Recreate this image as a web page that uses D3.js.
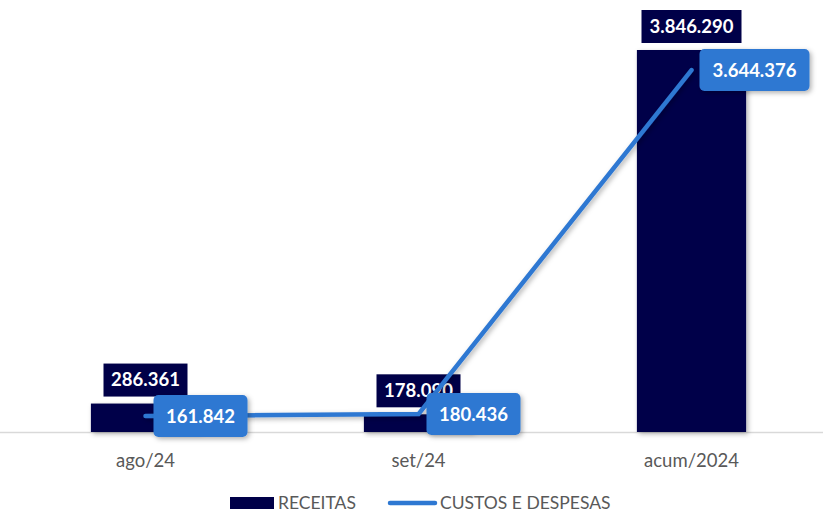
<!DOCTYPE html>
<html>
<head>
<meta charset="utf-8">
<script src="https://cdn.jsdelivr.net/npm/d3@7"></script>
<style>
  body { margin: 0; background: #fff; }
  svg { font-family: Lato, "Open Sans", sans-serif; }
</style>
</head>
<body>
<div id="chart"></div>
<script>
var categories = ['ago/24', 'set/24', 'acum/2024'];
var receitas = [286361, 178090, 3846290];
var custos = [161842, 180436, 3644376];
var seriesNames = ['RECEITAS', 'CUSTOS E DESPESAS'];

var W = 823, H = 514;
var BAR = '#000048', LINE = '#2e78d2', GRID = '#d9d9d9', TXT = '#595959';

var fmt = function(v) { return d3.format(',')(v).replace(/,/g, '.'); };

var svg = d3.select('#chart').append('svg')
  .attr('width', W).attr('height', H);

var defs = svg.append('defs');
var f = defs.append('filter').attr('id', 'shadow')
  .attr('x', '-20%').attr('y', '-20%').attr('width', '150%').attr('height', '150%');
f.append('feDropShadow').attr('dx', 2).attr('dy', 2).attr('stdDeviation', 2.5)
  .attr('flood-color', '#000').attr('flood-opacity', 0.3);

var x = d3.scaleBand().domain(categories).range([9, 828]).paddingInner(0.6).paddingOuter(0.3);
var y = d3.scaleLinear().domain([0, 3846290]).range([432, 50]);

// axis baseline
svg.append('line')
  .attr('x1', 0).attr('x2', W)
  .attr('y1', y(0) + 0.5).attr('y2', y(0) + 0.5)
  .attr('stroke', GRID).attr('stroke-width', 1.5);

// bars
svg.selectAll('rect.bar').data(receitas).enter().append('rect')
  .attr('class', 'bar')
  .attr('x', function(d, i) { return x(categories[i]); })
  .attr('y', function(d) { return y(d); })
  .attr('width', x.bandwidth())
  .attr('height', function(d) { return y(0) - y(d); })
  .attr('fill', BAR)
  .attr('filter', 'url(#shadow)');

// category labels
var xAxis = svg.append('g').attr('transform', 'translate(0,' + y(0) + ')')
  .call(d3.axisBottom(x).tickSize(0).tickPadding(22));
xAxis.select('.domain').remove();
xAxis.selectAll('text').attr('fill', TXT).style('font-size', '18.5px')
  .style('font-family', 'Lato, "Open Sans", sans-serif');

// bar value labels
var bl = svg.selectAll('g.blab').data(receitas).enter().append('g')
  .attr('class', 'blab')
  .attr('transform', function(d, i) {
    return 'translate(' + (x(categories[i]) + x.bandwidth() / 2) + ',' + (y(d) - 24) + ')';
  });
bl.append('rect')
  .attr('x', function(d) { return d > 1000000 ? -50 : -42; })
  .attr('y', -16)
  .attr('width', function(d) { return d > 1000000 ? 100 : 84; })
  .attr('height', 33)
  .attr('fill', BAR);
bl.append('text')
  .attr('text-anchor', 'middle').attr('dy', '0.36em')
  .attr('fill', '#fff').style('font-weight', 'bold').style('font-size', '18.5px')
  .text(function(d) { return fmt(d); });

// line
var line = d3.line()
  .x(function(d, i) { return x(categories[i]) + x.bandwidth() / 2; })
  .y(function(d) { return y(d); });
svg.append('path').datum(custos)
  .attr('d', line)
  .attr('fill', 'none')
  .attr('stroke', LINE).attr('stroke-width', 4.5)
  .attr('stroke-linecap', 'round').attr('stroke-linejoin', 'round')
  .attr('filter', 'url(#shadow)');

// line value labels
var ll = svg.selectAll('g.llab').data(custos).enter().append('g')
  .attr('class', 'llab')
  .attr('transform', function(d, i) {
    return 'translate(' + (x(categories[i]) + x.bandwidth() / 2 + 8) + ',' + y(d) + ')';
  });
ll.append('rect')
  .attr('x', 0).attr('y', -21)
  .attr('width', function(d) { return d > 1000000 ? 110 : 94; })
  .attr('height', 42).attr('rx', 5)
  .attr('fill', LINE)
  .attr('filter', 'url(#shadow)');
ll.append('text')
  .attr('x', function(d) { return d > 1000000 ? 55 : 47; })
  .attr('text-anchor', 'middle').attr('dy', '0.36em')
  .attr('fill', '#fff').style('font-weight', 'bold').style('font-size', '18.5px')
  .text(function(d) { return fmt(d); });

// legend
var lg = svg.append('g').attr('transform', 'translate(0,503)');
lg.append('rect').attr('x', 230).attr('y', -6).attr('width', 44).attr('height', 12).attr('fill', BAR);
lg.append('text').attr('x', 278).attr('dy', '0.35em').attr('fill', TXT)
  .style('font-size', '17.5px').text(seriesNames[0]);
lg.append('line').attr('x1', 390).attr('x2', 435).attr('y1', 0).attr('y2', 0)
  .attr('stroke', LINE).attr('stroke-width', 4.5).attr('stroke-linecap', 'round');
lg.append('text').attr('x', 440).attr('dy', '0.35em').attr('fill', TXT)
  .style('font-size', '17.5px').text(seriesNames[1]);
</script>
</body>
</html>
